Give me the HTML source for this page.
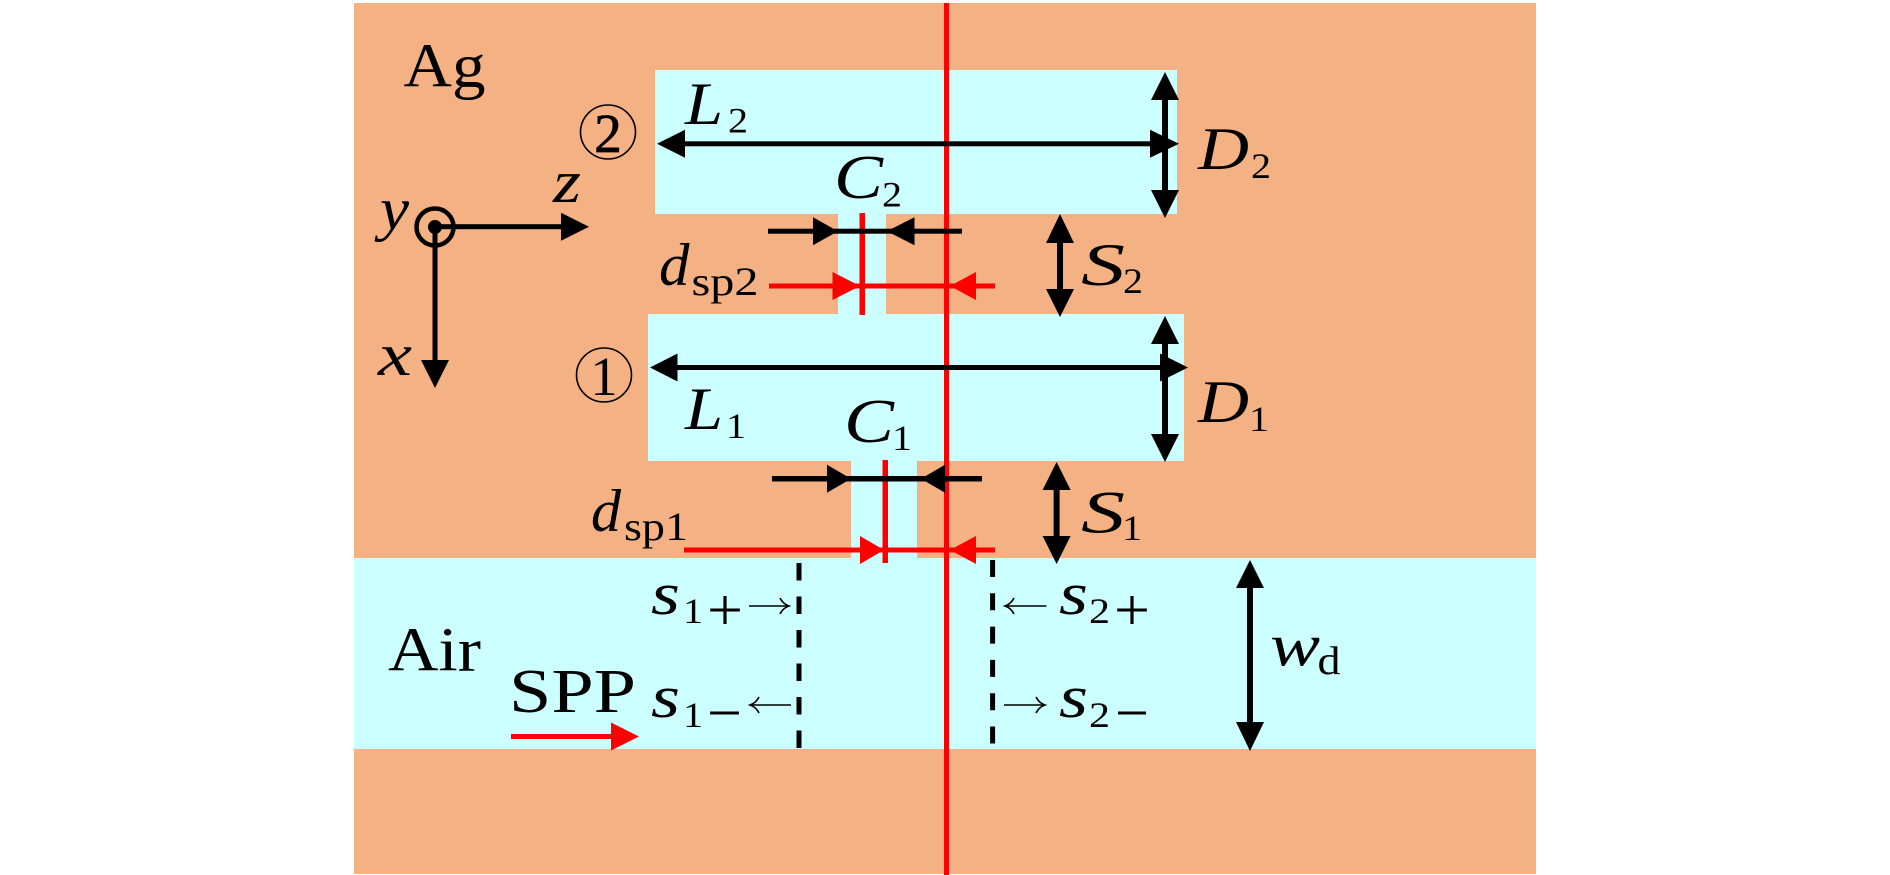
<!DOCTYPE html>
<html><head><meta charset="utf-8"><title>Diagram</title>
<style>
html,body{margin:0;padding:0;background:#fff;width:1890px;height:875px;overflow:hidden}
svg{display:block}
text{font-family:"Liberation Serif",serif;fill:#000}
.i{font-style:italic}
</style></head><body>
<svg width="1890" height="875" viewBox="0 0 1890 875" xmlns="http://www.w3.org/2000/svg">
<rect x="354" y="3" width="1182" height="871" fill="#f4b183"/>
<g fill="#ccffff">
<rect x="655" y="70" width="522" height="144"/>
<rect x="648" y="314" width="536" height="147"/>
<rect x="838" y="214" width="48" height="100"/>
<rect x="851" y="461" width="66" height="97"/>
<rect x="354" y="558" width="1182" height="191"/>
</g>

<!-- red lines -->
<g fill="#f00">
<rect x="944" y="3" width="5" height="872"/>
<rect x="859.5" y="213" width="5.5" height="102"/>
<rect x="882.5" y="460" width="5.5" height="103"/>
<rect x="769" y="283.5" width="226" height="5"/>
<polygon points="860,286 832.5,272 832.5,300"/>
<polygon points="950,286 976,272 976,300"/>
<rect x="684" y="547.5" width="311" height="5"/>
<polygon points="884,550 860,536 860,564"/>
<polygon points="950,550 976,536 976,564"/>
<rect x="511" y="734" width="105" height="5"/>
<polygon points="639,736.5 611,722.5 611,750.5"/>
</g>

<!-- black arrows -->
<g fill="#000">
<!-- L2 -->
<rect x="680" y="141.3" width="485" height="5"/>
<polygon points="657,143.8 685,129.8 685,157.8"/>
<polygon points="1179,143.8 1150,129.8 1150,157.8"/>
<!-- L1 -->
<rect x="672" y="365" width="495" height="5"/>
<polygon points="650,367.5 677.5,353.5 677.5,381.5"/>
<polygon points="1188,367.5 1160,353.5 1160,381.5"/>
<!-- D2 -->
<rect x="1162" y="95" width="6" height="100"/>
<polygon points="1165,72 1151,100 1179,100"/>
<polygon points="1165,218 1151,190 1179,190"/>
<!-- D1 -->
<rect x="1162" y="339" width="6" height="100"/>
<polygon points="1165,316 1151,344 1179,344"/>
<polygon points="1165,462 1151,434 1179,434"/>
<!-- S2 -->
<rect x="1057" y="238" width="6" height="56"/>
<polygon points="1060,214 1046,243 1074,243"/>
<polygon points="1060,317 1046,289 1074,289"/>
<!-- S1 -->
<rect x="1053.6" y="485" width="6" height="56"/>
<polygon points="1056.6,462 1042.6,490 1070.6,490"/>
<polygon points="1056.6,564 1042.6,536 1070.6,536"/>
<!-- wd -->
<rect x="1247" y="583" width="6" height="144"/>
<polygon points="1250,560 1236,588 1264,588"/>
<polygon points="1250,751 1236,722 1264,722"/>
<!-- z -->
<rect x="435" y="224.2" width="130" height="5"/>
<polygon points="589,226.7 561,212.7 561,240.7"/>
<!-- x -->
<rect x="432.5" y="227" width="5" height="137"/>
<polygon points="435,388 421,360 449,360"/>
<!-- C2 -->
<rect x="768" y="228.7" width="194" height="5"/>
<polygon points="838,231.2 813,217.2 813,245.2"/>
<polygon points="887,231.2 914.5,217.2 914.5,245.2"/>
<!-- C1 -->
<rect x="772" y="476" width="210" height="5.5"/>
<polygon points="851,478.7 827,464.7 827,492.7"/>
<polygon points="921,478.7 945,464.7 945,492.7"/>
<circle cx="435" cy="227" r="7"/>
</g>
<ellipse cx="435" cy="227" rx="18.5" ry="18.5" fill="none" stroke="#000" stroke-width="4.5"/>

<!-- dashed -->
<line x1="799" y1="563" x2="799" y2="748" stroke="#000" stroke-width="5" stroke-dasharray="17.5 16"/>
<line x1="992.6" y1="560" x2="992.6" y2="744" stroke="#000" stroke-width="5" stroke-dasharray="17 16.3" stroke-dashoffset="0"/>

<!-- thin arrows -->
<g fill="none" stroke="#000" stroke-width="1.6">
<path d="M749 606H788M780 598Q783 604 789 606Q783 608 780 614"/>
<path d="M791 705H751M759 697Q756 703 750 705Q756 707 759 713"/>
<path d="M1046.5 606H1006M1014 598Q1011 604 1005 606Q1011 608 1014 614"/>
<path d="M1004 705H1044M1036 697Q1039 703 1045 705Q1039 707 1036 713"/>
<ellipse cx="608" cy="132" rx="27.5" ry="27"/>
<ellipse cx="604" cy="375" rx="27.5" ry="27"/>
</g>

<!-- labels -->
<text x="403.5" y="86.7" font-size="62" textLength="82" lengthAdjust="spacingAndGlyphs">Ag</text>
<text x="388" y="670.7" font-size="62" textLength="93" lengthAdjust="spacingAndGlyphs">Air</text>
<text x="509" y="712" font-size="62" textLength="127" lengthAdjust="spacingAndGlyphs">SPP</text>
<text x="608" y="152" font-size="55" stroke="#000" stroke-width="0.8" text-anchor="middle">2</text>
<text x="604" y="395" font-size="55" text-anchor="middle">1</text>

<text class="i" x="685" y="124" font-size="60" textLength="38" lengthAdjust="spacingAndGlyphs">L</text>
<text x="728" y="132.7" font-size="36" textLength="20" lengthAdjust="spacingAndGlyphs">2</text>
<text class="i" x="834" y="198" font-size="62" textLength="49" lengthAdjust="spacingAndGlyphs">C</text>
<text x="882" y="206.7" font-size="36" textLength="20" lengthAdjust="spacingAndGlyphs">2</text>
<text class="i" x="659" y="285" font-size="60" textLength="30.5" lengthAdjust="spacingAndGlyphs">d</text>
<text x="691.5" y="295" font-size="40" textLength="67" lengthAdjust="spacingAndGlyphs">sp2</text>
<text class="i" x="380" y="229" font-size="60" textLength="29" lengthAdjust="spacingAndGlyphs">y</text>
<text class="i" x="553" y="202" font-size="60" textLength="28" lengthAdjust="spacingAndGlyphs">z</text>
<text class="i" x="378" y="375" font-size="60" textLength="34" lengthAdjust="spacingAndGlyphs">x</text>
<text class="i" x="685" y="429" font-size="60" textLength="38" lengthAdjust="spacingAndGlyphs">L</text>
<text x="726" y="438" font-size="36" textLength="20" lengthAdjust="spacingAndGlyphs">1</text>
<text class="i" x="844" y="442" font-size="62" textLength="50" lengthAdjust="spacingAndGlyphs">C</text>
<text x="892" y="450" font-size="36" textLength="20" lengthAdjust="spacingAndGlyphs">1</text>
<text class="i" x="1198" y="169" font-size="60" textLength="51" lengthAdjust="spacingAndGlyphs">D</text>
<text x="1251" y="178" font-size="36" textLength="20" lengthAdjust="spacingAndGlyphs">2</text>
<text class="i" x="1198" y="422" font-size="60" textLength="51" lengthAdjust="spacingAndGlyphs">D</text>
<text x="1249" y="431" font-size="36" textLength="20" lengthAdjust="spacingAndGlyphs">1</text>
<text class="i" x="1081" y="285" font-size="60" textLength="44" lengthAdjust="spacingAndGlyphs">S</text>
<text x="1123" y="293" font-size="36" textLength="20" lengthAdjust="spacingAndGlyphs">2</text>
<text class="i" x="1081" y="532.7" font-size="60" textLength="44" lengthAdjust="spacingAndGlyphs">S</text>
<text x="1122" y="540" font-size="36" textLength="20" lengthAdjust="spacingAndGlyphs">1</text>
<text class="i" x="591" y="531" font-size="60" textLength="30" lengthAdjust="spacingAndGlyphs">d</text>
<text x="624" y="540" font-size="40" textLength="64" lengthAdjust="spacingAndGlyphs">sp1</text>

<text class="i" x="651" y="614" font-size="60" textLength="29" lengthAdjust="spacingAndGlyphs">s</text>
<text x="683" y="623" font-size="36" textLength="20" lengthAdjust="spacingAndGlyphs">1</text>
<text x="707" y="630" font-size="60" textLength="36" lengthAdjust="spacingAndGlyphs">+</text>
<text class="i" x="651" y="717" font-size="60" textLength="29" lengthAdjust="spacingAndGlyphs">s</text>
<text x="683" y="727" font-size="36" textLength="20" lengthAdjust="spacingAndGlyphs">1</text>
<text x="707" y="733" font-size="60" textLength="35" lengthAdjust="spacingAndGlyphs">−</text>
<text class="i" x="1059" y="614" font-size="60" textLength="29" lengthAdjust="spacingAndGlyphs">s</text>
<text x="1089" y="623" font-size="36" textLength="21" lengthAdjust="spacingAndGlyphs">2</text>
<text x="1114" y="630" font-size="60" textLength="36" lengthAdjust="spacingAndGlyphs">+</text>
<text class="i" x="1059" y="717" font-size="60" textLength="29" lengthAdjust="spacingAndGlyphs">s</text>
<text x="1089" y="727" font-size="36" textLength="21" lengthAdjust="spacingAndGlyphs">2</text>
<text x="1115" y="733" font-size="60" textLength="34" lengthAdjust="spacingAndGlyphs">−</text>
<text class="i" x="1270" y="665.7" font-size="60" textLength="50" lengthAdjust="spacingAndGlyphs">w</text>
<text x="1317.5" y="674" font-size="40" textLength="23" lengthAdjust="spacingAndGlyphs">d</text>
</svg>
</body></html>
